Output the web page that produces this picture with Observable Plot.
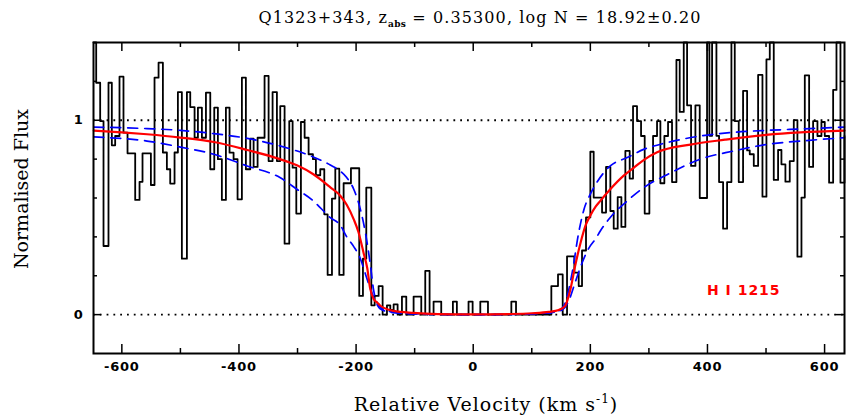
<!DOCTYPE html>
<html><head><meta charset="utf-8">
<script src="https://cdn.jsdelivr.net/npm/d3@7"></script>
<script src="https://cdn.jsdelivr.net/npm/@observablehq/plot@0.6"></script>
<style>
html,body{margin:0;padding:0;background:#fff;}
#chart{width:846px;height:419px;overflow:hidden;}
</style>
</head><body><div id="chart"></div>
<script>
// ---- Observed spectrum (histogram): left bin edge (km/s) and normalised flux ----
const specVelocity = [
 -648.4,-643.8,-637.0,-631.3,-622.8,-617.1,-611.4,-604.0,-597.2,-590.3,-577.2,-569.8,-564.7,-550.4,-544.2,-537.3,-529.9,-523.1,-517.4,-510.0,
 -504.3,-497.5,-488.9,-483.2,-475.8,-470.1,-463.3,-456.4,-449.0,-442.2,
 -436.0,-429.2,-422.3,-416.1,-409.2,-402.4,-395.0,-388.2,-380.7,-375.0,-368.2,-356.3,-349.4,-342.6,-335.2,-329.5,-322.1,-314.1,-308.4,-302.1,
 -294.2,-287.9,-281.1,-273.7,-268.6,-261.2,-254.3,-248.6,-241.2,-235.5,-228.7,
 -221.3,-208.8,-194.6,-188.3,-182.6,-174.0,-168.3,-161.5,-154.7,-147.3,-141.6,-135.9,-129.1,-121.7,-114.3,-101.8,-88.7,-81.9,-74.5,-67.7,
 -54.6,-34.7,-27.9,-8.0,
 -1.0,12.1,25.2,65.1,73.1,133.4,144.8,152.8,160.2,172.7,180.1,185.8,192.6,200.0,
 205.7,220.0,226.8,234.2,239.9,246.7,253.0,259.8,267.2,272.9,279.7,286.6,292.8,300.8,307.1,313.9,319.6,326.4,332.7,339.5,
 347.0,352.6,359.5,365.2,372.0,379.4,386.8,399.3,403.3,407.9,415.3,
 419.8,426.7,433.5,440.9,446.6,453.4,460.8,467.7,472.2,479.1,486.5,493.9,500.7,506.4,513.2,520.6,526.3,533.1,540.5,547.4,
 553.6,560.5,566.2,573.6,580.4,587.8,594.6,600.3,607.7,614.6,620.3,627.1,634.5,640.0
];
const specFlux = [
 1.45,1.193,0.996,0.353,1.193,0.871,0.919,1.224,0.936,0.830,0.590,0.683,0.830,0.667,1.219,1.296,0.834,0.748,0.674,0.834,
 1.145,0.288,1.145,1.068,0.910,1.065,0.910,1.142,0.748,1.065,
 0.80,0.59,1.065,0.833,0.80,0.593,1.219,0.748,0.905,0.760,0.910,1.228,0.79,1.145,0.79,1.073,0.365,0.996,0.756,0.520,
 0.991,0.910,0.825,0.80,0.717,0.748,0.516,0.204,0.597,0.751,0.204,
 0.676,0.753,0.096,0.288,0.653,0.048,0.096,0.147,0.0,0.048,0.024,0.053,0.0,0.093,0.0,0.093,0.0,0.225,0.0,0.067,
 0.0,0.067,0.0,0.067,
 0.0,0.067,0.0,0.067,0.0,0.147,0.207,0.0,0.300,0.216,0.147,0.33,0.50,0.838,
 0.602,0.525,0.760,0.533,0.442,0.605,0.451,0.842,0.70,1.073,0.996,0.919,0.520,0.688,0.919,0.996,0.676,0.919,0.991,0.682,
 1.310,1.043,1.45,1.077,0.765,1.077,0.60,1.45,0.92,1.45,0.92,
 0.682,0.442,0.682,1.45,0.996,0.682,1.151,0.845,0.825,0.765,1.233,0.607,1.313,1.45,0.693,0.847,0.773,0.684,0.790,1.001,
 0.298,0.602,1.231,0.760,0.996,0.919,0.991,0.919,0.679,1.156,1.45,0.679,0.919,0.919
];

// ---- Best-fit profile, log N = 18.92 (red) ----
const fitVelocity = [-648,-600,-557,-500,-443,-386,-330,-301,-273,-244,-227,-216,-204,-196,-187,-181,-176,-170,-164,-159,-136,-102,-60,0,60,100,129,146,157,166,174,183,192,200,209,217,234,257,274,291,314,371,430,500,559,637];
const fitFlux     = [0.947,0.938,0.928,0.911,0.888,0.847,0.800,0.768,0.722,0.655,0.612,0.565,0.490,0.425,0.315,0.240,0.135,0.080,0.062,0.047,0.019,0.009,0.003,0.001,0.003,0.007,0.014,0.024,0.045,0.13,0.25,0.366,0.46,0.51,0.555,0.585,0.645,0.715,0.755,0.795,0.835,0.875,0.90,0.925,0.938,0.947];

// ---- Profile, log N = 18.72 (blue dashed, narrower) ----
const lowVelocity = [-648,-557,-500,-443,-386,-330,-273,-244,-227,-216,-204,-193,-184,-176,-170,-164,-153,-130,-90,0,90,130,146,157,169,180,189,200,209,234,263,291,331,388,445,502,559,637];
const lowFlux     = [0.965,0.957,0.948,0.931,0.907,0.868,0.811,0.770,0.738,0.705,0.645,0.545,0.42,0.265,0.125,0.06,0.027,0.01,0.003,0.0,0.003,0.01,0.02,0.06,0.216,0.42,0.54,0.62,0.67,0.765,0.808,0.85,0.885,0.919,0.938,0.948,0.955,0.965];

// ---- Profile, log N = 19.12 (blue dashed, wider) ----
const highVelocity = [-648,-557,-500,-443,-386,-330,-301,-273,-244,-227,-216,-204,-193,-182,-170,-159,-140,-100,0,100,140,152,163,174,186,197,209,217,234,263,291,331,388,445,502,559,637];
const highFlux     = [0.914,0.893,0.862,0.825,0.765,0.705,0.645,0.585,0.499,0.46,0.40,0.35,0.29,0.19,0.09,0.03,0.012,0.004,0.0,0.004,0.014,0.024,0.07,0.165,0.267,0.34,0.39,0.43,0.50,0.585,0.653,0.72,0.80,0.842,0.876,0.893,0.91];

// ---- Axes ----
const xDomain = [-648.4, 634];
const yDomain = [-0.2, 1.4];
const xMajorTicks = [-600,-400,-200,0,200,400,600];
const xMinorTicks = [-500,-300,-100,100,300,500];
const yMajorTicks = [0,1];
const yMinorTicks = [0.2,0.4,0.6,0.8,1.2];
const referenceLevels = [0,1];
const annotation = [{text: "H I 1215", velocity: 462, flux: 0.122}];

const spectrum = specVelocity.map((v,i)=>({v, f: specFlux[i]}));
const fit = fitVelocity.map((v,i)=>({v, f: fitFlux[i]}));
const low = lowVelocity.map((v,i)=>({v, f: lowFlux[i]}));
const high = highVelocity.map((v,i)=>({v, f: highFlux[i]}));

const W=846, H=419, mL=93, mR=2, mT=42, mB=66;
const innerH = H-mT-mB, innerW = W-mL-mR;
const tickStyle = {stroke:"black", strokeWidth:1.5};

const plot = Plot.plot({
  width: W, height: H, marginLeft: mL, marginRight: mR, marginTop: mT, marginBottom: mB,
  style: {background:"white", fontFamily:"'DejaVu Sans', sans-serif", fontSize:"13px", color:"black"},
  x: {domain: xDomain, clamp: true},
  y: {domain: yDomain, clamp: true},
  marks: [
    Plot.ruleY(referenceLevels, {stroke:"black", strokeWidth:1.8, strokeDasharray:"1.8,5"}),
    Plot.line(spectrum, {x:"v", y:"f", curve:"step-after", stroke:"black", strokeWidth:1.8}),
    Plot.line(high, {x:"v", y:"f", curve:"monotone-x", stroke:"#0000ff", strokeWidth:1.7, strokeDasharray:"10,7"}),
    Plot.line(low, {x:"v", y:"f", curve:"monotone-x", stroke:"#0000ff", strokeWidth:1.7, strokeDasharray:"10,7"}),
    Plot.line(fit, {x:"v", y:"f", curve:"monotone-x", stroke:"#ff0000", strokeWidth:2.2}),
    Plot.ruleX(xMajorTicks, {...tickStyle, insetTop: innerH-9}),
    Plot.ruleX(xMajorTicks, {...tickStyle, insetBottom: innerH-9}),
    Plot.ruleX(xMinorTicks, {...tickStyle, insetTop: innerH-5}),
    Plot.ruleX(xMinorTicks, {...tickStyle, insetBottom: innerH-5}),
    Plot.ruleY(yMajorTicks, {...tickStyle, insetRight: innerW-8}),
    Plot.ruleY(yMajorTicks, {...tickStyle, insetLeft: innerW-8}),
    Plot.ruleY(yMinorTicks, {...tickStyle, insetRight: innerW-4}),
    Plot.ruleY(yMinorTicks, {...tickStyle, insetLeft: innerW-4}),
    Plot.axisX({ticks: xMajorTicks, tickSize: 0, tickPadding: 8, tickFormat: d => String(d), label: null, fontWeight: "bold"}),
    Plot.axisY({ticks: yMajorTicks, tickSize: 0, tickPadding: 10, tickFormat: d => String(d), label: null, fontWeight: "bold"}),
    Plot.text(annotation, {x:"velocity", y:"flux", text:"text", fill:"#ff0000", fontWeight:"bold", fontSize:14}),
    Plot.frame({stroke:"black", strokeWidth:2})
  ]
});
document.getElementById("chart").appendChild(plot);

const svg = d3.select(plot);
svg.selectAll('g[aria-label="x-axis tick label"] text, g[aria-label="y-axis tick label"] text').attr("letter-spacing", "0.8px");
svg.selectAll('g[aria-label="text"] text').attr("letter-spacing", "1px");
const serif = "'DejaVu Serif', 'Liberation Serif', serif";
// Title
const t = svg.append("text").attr("x", 480).attr("y", 23).attr("text-anchor","middle")
  .attr("font-family", serif).attr("font-size", 16).attr("letter-spacing", "1.1px").attr("fill","black");
t.append("tspan").text("Q1323+343, z");
t.append("tspan").attr("dy", 4).attr("font-size", 9).attr("font-weight","bold").attr("letter-spacing","0.3px").text("abs");
t.append("tspan").attr("dy", -4).text(" = 0.35300, log N = 18.92\u00b10.20");
// X label
const xl = svg.append("text").attr("x", 486).attr("y", 411).attr("text-anchor","middle")
  .attr("font-family", serif).attr("font-size", 19).attr("letter-spacing", "1px").attr("fill","black");
xl.append("tspan").text("Relative Velocity (km s");
xl.append("tspan").attr("dy", -8).attr("font-size", 12).text("-1");
xl.append("tspan").attr("dy", 8).text(")");
// Y label
svg.append("text").attr("transform","translate(28,189) rotate(-90)").attr("text-anchor","middle")
  .attr("font-family", serif).attr("font-size", 19).attr("fill","black").text("Normalised Flux");
</script>
</body></html>
